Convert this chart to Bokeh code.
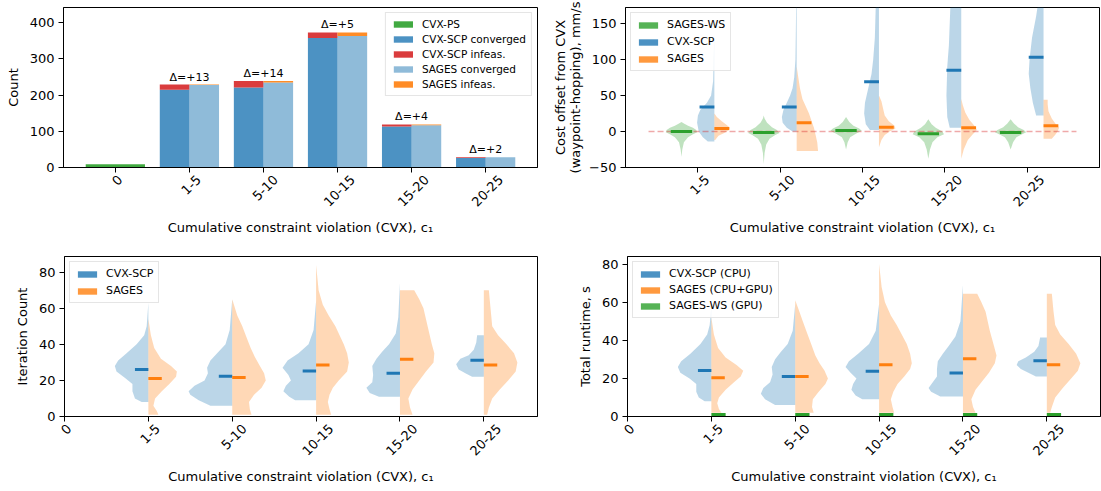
import numpy as np
from bokeh.plotting import figure
from bokeh.layouts import column, row
from bokeh.models import Range1d, FixedTicker, Legend, LegendItem, LinearAxis
from bokeh.embed import file_html
from bokeh.resources import INLINE
from bokeh.core.properties import value

# ---------------------------------------------------------------- data
categories = ["0", "1-5", "5-10", "10-15", "15-20", "20-25"]
bins = categories[1:]

# problem counts per constraint-violation bin
cvx_ps_count = 9
cvx_scp_converged = [215, 221, 358, 113, 26]
cvx_scp_infeasible = [14, 18, 15, 6, 2]
sages_converged = [228, 235, 363, 117, 28]
sages_infeasible = [1, 4, 10, 2, 0]

# violin outlines: (value, half-width) pairs along each density
cost_ws_profile = [
    [(-35, 0.0), (-25, 0.01), (-15, 0.03), (-8, 0.08), (-4, 0.14), (-1, 0.19), (2, 0.18), (5, 0.14), (8, 0.08), (11, 0.03), (13, 0.0)],
    [(-45, 0.0), (-30, 0.01), (-18, 0.03), (-10, 0.07), (-5, 0.14), (-2, 0.19), (2, 0.16), (6, 0.10), (12, 0.04), (18, 0.01), (22, 0.0)],
    [(-25, 0.0), (-15, 0.02), (-8, 0.05), (-3, 0.12), (1, 0.19), (4, 0.16), (8, 0.09), (13, 0.04), (20, 0.0)],
    [(-38, 0.0), (-25, 0.02), (-15, 0.05), (-8, 0.11), (-4, 0.19), (0, 0.17), (5, 0.09), (10, 0.04), (17, 0.0)],
    [(-25, 0.0), (-15, 0.03), (-8, 0.07), (-4, 0.14), (-1, 0.19), (2, 0.16), (6, 0.09), (11, 0.04), (17, 0.0)],
]
cost_ws_median = [0, -1.5, 1.5, -3, -1.5]

cost_scp_profile = [
    [(-14, 0.08), (-8, 0.14), (0, 0.19), (12, 0.21), (22, 0.20), (30, 0.17), (40, 0.09), (50, 0.04), (70, 0.015), (100, 0.01), (136, 0.0)],
    [(0, 0.05), (5, 0.12), (12, 0.17), (20, 0.18), (30, 0.16), (40, 0.12), (50, 0.08), (60, 0.05), (75, 0.03), (100, 0.015), (140, 0.01), (190, 0.005)],
    [(2, 0.11), (10, 0.16), (25, 0.18), (40, 0.17), (60, 0.13), (80, 0.09), (100, 0.07), (130, 0.05), (170, 0.04), (190, 0.03)],
    [(5, 0.14), (20, 0.17), (50, 0.18), (90, 0.17), (120, 0.15), (150, 0.14), (180, 0.13), (200, 0.12)],
    [(22, 0.09), (40, 0.13), (60, 0.16), (80, 0.18), (100, 0.17), (130, 0.14), (160, 0.09), (175, 0.07), (200, 0.05)],
]
cost_scp_median = [34, 34, 69, 85, 103]

cost_sages_profile = [
    [(-12, 0.01), (-6, 0.05), (-2, 0.12), (2, 0.18), (5, 0.19), (9, 0.15), (14, 0.09), (20, 0.03), (25, 0.0)],
    [(-27, 0.26), (-15, 0.25), (-5, 0.23), (5, 0.21), (15, 0.18), (25, 0.15), (35, 0.11), (45, 0.07), (60, 0.04), (75, 0.02), (90, 0.0)],
    [(-22, 0.0), (-12, 0.03), (-5, 0.07), (0, 0.13), (4, 0.20), (8, 0.19), (14, 0.12), (22, 0.07), (32, 0.05), (42, 0.03), (50, 0.0)],
    [(-38, 0.0), (-25, 0.03), (-12, 0.08), (-4, 0.14), (2, 0.19), (8, 0.16), (16, 0.10), (26, 0.05), (36, 0.02), (45, 0.0)],
    [(-10, 0.10), (-5, 0.14), (0, 0.17), (5, 0.19), (10, 0.15), (18, 0.10), (28, 0.06), (38, 0.05), (44, 0.05)],
]
cost_sages_median = [4, 12, 6, 5, 8]

iter_scp_profile = [
    [(8, 0.08), (10, 0.16), (14, 0.19), (18, 0.19), (21, 0.27), (25, 0.38), (28, 0.40), (31, 0.36), (35, 0.26), (40, 0.14), (45, 0.05), (50, 0.02), (63, 0.0)],
    [(6, 0.26), (9, 0.40), (12, 0.50), (14, 0.52), (17, 0.45), (20, 0.33), (24, 0.29), (27, 0.30), (31, 0.26), (35, 0.18), (40, 0.08), (48, 0.03), (65, 0.0)],
    [(9, 0.25), (11, 0.32), (14, 0.39), (17, 0.36), (20, 0.30), (23, 0.33), (27, 0.40), (31, 0.34), (35, 0.21), (40, 0.09), (48, 0.03), (64, 0.0)],
    [(11, 0.25), (13, 0.36), (16, 0.40), (19, 0.33), (23, 0.32), (28, 0.33), (32, 0.28), (36, 0.21), (40, 0.13), (46, 0.05), (55, 0.02), (74, 0.0)],
    [(22, 0.14), (24, 0.22), (26, 0.30), (29, 0.33), (32, 0.28), (34, 0.18), (37, 0.12), (41, 0.09), (45, 0.08)],
]
iter_scp_median = [26, 22.3, 25.2, 24, 31.2]

iter_sages_profile = [
    [(1, 0.12), (3, 0.10), (6, 0.06), (10, 0.08), (14, 0.16), (18, 0.25), (22, 0.33), (25, 0.34), (28, 0.27), (32, 0.15), (38, 0.07), (45, 0.03), (54, 0.0)],
    [(1, 0.23), (4, 0.21), (8, 0.20), (12, 0.26), (16, 0.35), (20, 0.40), (24, 0.38), (28, 0.33), (33, 0.27), (38, 0.22), (44, 0.17), (50, 0.12), (56, 0.06), (65, 0.0)],
    [(1, 0.18), (4, 0.16), (8, 0.14), (12, 0.16), (16, 0.20), (20, 0.27), (25, 0.37), (30, 0.39), (35, 0.37), (40, 0.33), (45, 0.28), (50, 0.23), (56, 0.15), (62, 0.08), (70, 0.03), (84, 0.0)],
    [(1, 0.15), (5, 0.12), (10, 0.10), (15, 0.15), (20, 0.23), (25, 0.31), (30, 0.40), (35, 0.41), (40, 0.38), (50, 0.33), (60, 0.28), (65, 0.23), (70, 0.17)],
    [(1, 0.04), (5, 0.06), (10, 0.10), (15, 0.19), (20, 0.29), (25, 0.38), (30, 0.40), (35, 0.36), (40, 0.27), (45, 0.17), (50, 0.10), (60, 0.08), (70, 0.06)],
]
iter_sages_median = [21.1, 21.6, 28.5, 31.8, 28.5]

time_scp_profile = [
    [(8, 0.08), (10, 0.15), (13, 0.18), (17, 0.18), (20, 0.26), (23, 0.37), (26, 0.40), (29, 0.36), (33, 0.25), (38, 0.13), (43, 0.05), (48, 0.02), (58, 0.0)],
    [(6, 0.24), (9, 0.36), (12, 0.41), (15, 0.38), (18, 0.30), (22, 0.27), (26, 0.28), (30, 0.24), (34, 0.17), (38, 0.09), (45, 0.03), (59, 0.0)],
    [(9, 0.20), (11, 0.28), (14, 0.33), (17, 0.31), (20, 0.27), (23, 0.34), (26, 0.40), (29, 0.36), (33, 0.25), (38, 0.12), (45, 0.04), (59, 0.0)],
    [(10.5, 0.27), (13, 0.38), (15, 0.41), (18, 0.36), (21, 0.31), (25, 0.31), (29, 0.30), (33, 0.24), (37, 0.17), (42, 0.09), (50, 0.03), (69, 0.0)],
    [(21, 0.13), (23, 0.22), (25, 0.31), (27, 0.36), (29, 0.34), (31, 0.25), (34, 0.15), (37, 0.10), (41.5, 0.08)],
]
time_scp_median = [24.2, 21, 23.8, 22.8, 29.3]

time_sages_profile = [
    [(2, 0.12), (4, 0.09), (7, 0.07), (10, 0.09), (14, 0.17), (18, 0.27), (21, 0.35), (24, 0.38), (27, 0.30), (31, 0.17), (36, 0.08), (43, 0.03), (52, 0.0)],
    [(2, 0.22), (5, 0.20), (9, 0.21), (13, 0.28), (17, 0.36), (20, 0.39), (24, 0.35), (28, 0.29), (32, 0.24), (38, 0.19), (44, 0.14), (50, 0.09), (55, 0.05), (61, 0.0)],
    [(2, 0.18), (5, 0.16), (9, 0.14), (13, 0.17), (17, 0.22), (21, 0.30), (25, 0.37), (28, 0.39), (33, 0.37), (38, 0.33), (43, 0.27), (48, 0.21), (53, 0.14), (60, 0.07), (68, 0.03), (80, 0.0)],
    [(2, 0.15), (5, 0.12), (9, 0.10), (14, 0.15), (18, 0.22), (23, 0.31), (28, 0.38), (32, 0.40), (37, 0.37), (45, 0.32), (55, 0.27), (60, 0.22), (64.5, 0.17)],
    [(2, 0.04), (5, 0.06), (10, 0.10), (15, 0.19), (20, 0.29), (24, 0.37), (28, 0.40), (33, 0.35), (38, 0.26), (43, 0.16), (48, 0.10), (55, 0.08), (64.5, 0.06)],
]
time_sages_median = [20.3, 21, 27.2, 30.3, 27.2]
time_ws_median = [1.0, 1.0, 1.0, 1.0, 1.0]

# ---------------------------------------------------------------- style
FONT = "DejaVu Sans"
BLUE, ORANGE, GREEN, RED = "#1f77b4", "#ff7f0e", "#2ca02c", "#d62728"
XLABEL = "Cumulative constraint violation (CVX), c\u2081"
TICK_PX = 13


def make_fig(width, height, xr, yr, left, right, top, bottom):
    p = figure(width=width, height=height, x_range=Range1d(*xr), y_range=Range1d(*yr),
               output_backend="svg", toolbar_location=None, title=None,
               min_border_left=left, min_border_right=right,
               min_border_top=top, min_border_bottom=bottom)
    p.xgrid.visible = False
    p.ygrid.visible = False
    p.outline_line_color = "black"
    p.outline_line_width = 1
    p.background_fill_color = "white"
    return p, width - left - right


def label_width(text):
    # rough DejaVu Sans advance widths, in em
    em = sum(0.361 if ch == "-" else 0.636 for ch in text)
    return em * TICK_PX


def text_axis(ax):
    ax.major_label_text_font = FONT
    ax.major_label_text_font_size = "%dpx" % TICK_PX
    ax.major_label_text_color = "black"
    ax.axis_label_text_font = FONT
    ax.axis_label_text_font_size = "13px"
    ax.axis_label_text_font_style = "normal"
    ax.axis_label_text_color = "black"


def style_axes(p, frame_w, xticks, xlabels, ylabel, yticks, yoverrides=None):
    # y axis
    ya = p.yaxis[0]
    text_axis(ya)
    ya.ticker = FixedTicker(ticks=list(yticks))
    if yoverrides:
        ya.major_label_overrides = yoverrides
    ya.major_tick_out = 5
    ya.major_tick_in = 0
    ya.minor_tick_line_color = None
    ya.axis_line_color = "black"
    ya.major_tick_line_color = "black"
    ya.major_label_standoff = 4
    ya.axis_label_standoff = 6
    ya.axis_label = ylabel

    # x axis: tick marks at the category positions
    xa = p.xaxis[0]
    xa.ticker = FixedTicker(ticks=[], minor_ticks=[float(t) for t in xticks])
    xa.minor_tick_out = 5
    xa.minor_tick_in = 0
    xa.minor_tick_line_color = "black"
    xa.axis_line_color = "black"
    xa.major_label_standoff = 0

    # second axis carrying the rotated category names, centred under the ticks
    xr = p.x_range
    ppu = frame_w / (xr.end - xr.start)
    shifted = [round(float(t) + ((label_width(lab) + 15) * 0.3536 - 3.5) / ppu, 4)
               for t, lab in zip(xticks, xlabels)]
    la = LinearAxis(ticker=FixedTicker(ticks=shifted),
                    major_label_overrides={s: lab for s, lab in zip(shifted, xlabels)},
                    major_label_orientation=np.pi / 4,
                    major_tick_out=0, major_tick_in=0, major_tick_line_color=None,
                    minor_tick_line_color=None, axis_line_color=None,
                    major_label_standoff=5, axis_label_standoff=6,
                    axis_label=XLABEL)
    text_axis(la)
    p.add_layout(la, "below")


def style_legend(leg, font_size, label_height, spacing):
    leg.label_text_font = FONT
    leg.label_text_font_size = font_size
    leg.label_text_color = "black"
    leg.glyph_width = 24
    leg.glyph_height = 8
    leg.label_height = label_height
    leg.label_standoff = 7
    leg.spacing = spacing
    leg.padding = 5
    leg.margin = 5
    leg.border_line_color = "#cccccc"
    leg.border_line_width = 1
    leg.background_fill_alpha = 0.8


def violins(p, centers, profiles, side, color):
    for c, prof in zip(centers, profiles):
        ys = np.array([v for v, _ in prof], dtype=float)
        ws = np.array([w for _, w in prof], dtype=float)
        if side == "left":
            x1, x2 = c - ws, np.full_like(ws, c)
        elif side == "right":
            x1, x2 = np.full_like(ws, c), c + ws
        else:
            x1, x2 = c - ws, c + ws
        p.harea(x1=x1, x2=x2, y=ys, fill_color=color, fill_alpha=0.3)


def medians(p, centers, meds, side, color, length):
    c = np.asarray(centers, dtype=float)
    if side == "left":
        x0, x1 = c - length, c
    elif side == "right":
        x0, x1 = c, c + length
    else:
        x0, x1 = c - length, c + length
    p.segment(x0=x0, x1=x1, y0=meds, y1=meds, line_color=color, line_width=3)


def legend_swatch(p, x, color):
    # zero-height bar: nothing shows in the plot, only its legend patch
    return p.vbar(x=[x], bottom=[0], top=[0], width=0.1, fill_color=color,
                  fill_alpha=0.8, line_color=None)


x_all = np.arange(len(categories))
pos = x_all[1:].astype(float)

# ---------------------------------------------------------------- counts
p1, fw1 = make_fig(550, 245, (-0.70, 5.70), (0, 442), 63, 13, 7, 78)
style_axes(p1, fw1, x_all, categories, "Count", [0, 100, 200, 300, 400])

scp_total = np.array(cvx_scp_converged) + np.array(cvx_scp_infeasible)
sages_total = np.array(sages_converged) + np.array(sages_infeasible)

p1.vbar(x=x_all[:1], top=[cvx_ps_count], width=0.8, fill_color=GREEN, fill_alpha=0.9,
        line_color=None, legend_label="CVX-PS")
p1.vbar(x=pos - 0.2, bottom=0, top=cvx_scp_converged, width=0.4, fill_color=BLUE,
        fill_alpha=0.8, line_color=None, legend_label="CVX-SCP converged")
p1.vbar(x=pos - 0.2, bottom=cvx_scp_converged, top=scp_total, width=0.4, fill_color=RED,
        fill_alpha=0.9, line_color=None, legend_label="CVX-SCP infeas.")
p1.vbar(x=pos + 0.2, bottom=0, top=sages_converged, width=0.4, fill_color=BLUE,
        fill_alpha=0.5, line_color=None, legend_label="SAGES converged")
p1.vbar(x=pos + 0.2, bottom=sages_converged, top=sages_total, width=0.4, fill_color=ORANGE,
        fill_alpha=0.9, line_color=None, legend_label="SAGES infeas.")

delta = np.array(sages_converged) - np.array(cvx_scp_converged)
delta_text = ["\u0394=%+d" % d for d in delta]
p1.text(x=pos, y=np.maximum(scp_total, sages_total), text=delta_text,
        text_align="center", text_baseline="bottom", y_offset=-1,
        text_font=value(FONT), text_font_size="11px", text_color="black")

leg1 = p1.legend[0]
leg1.location = "top_right"
style_legend(leg1, "10.5px", 12, 3)

# ---------------------------------------------------------------- cost offset
p2, fw2 = make_fig(551, 245, (0.12, 5.88), (-50, 172), 75, 2, 7, 78)
style_axes(p2, fw2, pos, bins, "Cost offset from CVX\n(waypoint-hopping), mm/s",
           [-50, 0, 50, 100, 150], {-50: "\u221250"})
p2.yaxis.axis_label_text_line_height = 1.0
p2.yaxis.axis_label_standoff = 3

ws_pos = pos - 0.2
split = pos + 0.2
violins(p2, ws_pos, cost_ws_profile, "both", GREEN)
violins(p2, split, cost_scp_profile, "left", BLUE)
violins(p2, split, cost_sages_profile, "right", ORANGE)
p2.line(x=[pos[0] - 0.6, pos[-1] + 0.6], y=[0, 0], line_color=RED, line_alpha=0.4,
        line_width=1.5, line_dash="6 3")
medians(p2, ws_pos, cost_ws_median, "both", GREEN, 0.13)
medians(p2, split, cost_scp_median, "left", BLUE, 0.18)
medians(p2, split, cost_sages_median, "right", ORANGE, 0.18)

leg2 = Legend(items=[LegendItem(label="SAGES-WS", renderers=[legend_swatch(p2, pos[0], GREEN)]),
                     LegendItem(label="CVX-SCP", renderers=[legend_swatch(p2, pos[0], BLUE)]),
                     LegendItem(label="SAGES", renderers=[legend_swatch(p2, pos[0], ORANGE)])],
              location="top_left")
style_legend(leg2, "11px", 13, 4)
p2.add_layout(leg2)

# ---------------------------------------------------------------- iterations
p3, fw3 = make_fig(550, 246, (0, 5.64), (0, 88.7), 64, 13, 10, 75)
style_axes(p3, fw3, x_all, categories, "Iteration Count", [0, 20, 40, 60, 80])
violins(p3, pos, iter_scp_profile, "left", BLUE)
violins(p3, pos, iter_sages_profile, "right", ORANGE)
medians(p3, pos, iter_scp_median, "left", BLUE, 0.16)
medians(p3, pos, iter_sages_median, "right", ORANGE, 0.16)

leg3 = Legend(items=[LegendItem(label="CVX-SCP", renderers=[legend_swatch(p3, pos[0], BLUE)]),
                     LegendItem(label="SAGES", renderers=[legend_swatch(p3, pos[0], ORANGE)])],
              location="top_left")
style_legend(leg3, "11px", 13, 4)
p3.add_layout(leg3)

# ---------------------------------------------------------------- runtime
p4, fw4 = make_fig(551, 246, (0, 5.64), (0, 84.0), 77, 1, 11, 75)
style_axes(p4, fw4, x_all, categories, "Total runtime, s", [0, 20, 40, 60, 80])
violins(p4, pos, time_scp_profile, "left", BLUE)
violins(p4, pos, time_sages_profile, "right", ORANGE)
medians(p4, pos, time_scp_median, "left", BLUE, 0.16)
medians(p4, pos, time_sages_median, "right", ORANGE, 0.16)
medians(p4, pos, time_ws_median, "right", GREEN, 0.17)

leg4 = Legend(items=[LegendItem(label="CVX-SCP (CPU)", renderers=[legend_swatch(p4, pos[0], BLUE)]),
                     LegendItem(label="SAGES (CPU+GPU)", renderers=[legend_swatch(p4, pos[0], ORANGE)]),
                     LegendItem(label="SAGES-WS (GPU)", renderers=[legend_swatch(p4, pos[0], GREEN)])],
              location="top_left")
style_legend(leg4, "11px", 13, 3)
p4.add_layout(leg4)

layout = column(row(p1, p2), row(p3, p4))
open("out.html", "w").write(file_html(layout, INLINE))
